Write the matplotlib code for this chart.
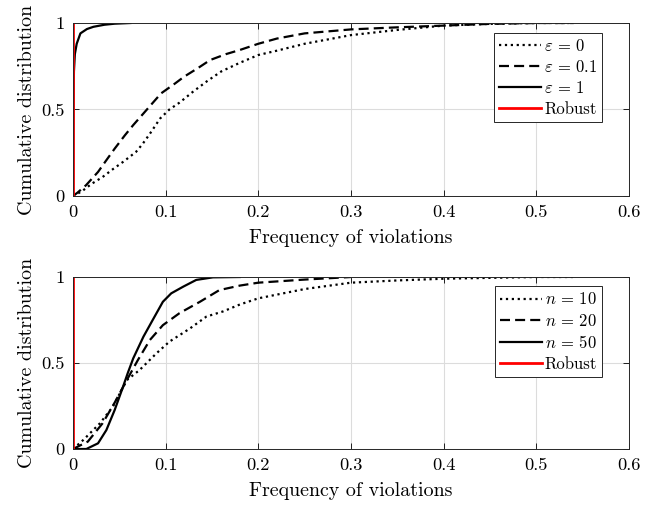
import matplotlib.pyplot as plt

plt.rcParams["font.family"] = "cmr10"
plt.rcParams["mathtext.fontset"] = "cm"
plt.rcParams["axes.formatter.use_mathtext"] = True

# top panel: varying epsilon
eps0_x = [0, 0.004, 0.011, 0.02, 0.032, 0.043, 0.054, 0.062, 0.068, 0.075, 0.083, 0.094,
          0.104, 0.115, 0.13, 0.145, 0.16, 0.18, 0.2, 0.22, 0.25, 0.3, 0.35, 0.4,
          0.45, 0.5, 0.54]
eps0_y = [0, 0.01, 0.033, 0.07, 0.11, 0.155, 0.197, 0.23, 0.255, 0.30, 0.36, 0.448,
          0.50, 0.54, 0.605, 0.665, 0.72, 0.77, 0.815, 0.84, 0.88, 0.93, 0.96,
          0.985, 0.995, 1.0, 1.0]
eps01_x = [0, 0.005, 0.014, 0.027, 0.036, 0.045, 0.056, 0.065, 0.076, 0.095, 0.11, 0.12,
           0.135, 0.148, 0.165, 0.18, 0.2, 0.22, 0.25, 0.3, 0.35, 0.4, 0.45, 0.5, 0.54]
eps01_y = [0, 0.02, 0.062, 0.139, 0.207, 0.274, 0.351, 0.41, 0.477, 0.593, 0.65, 0.69,
           0.74, 0.786, 0.82, 0.844, 0.88, 0.91, 0.94, 0.963, 0.975, 0.985, 0.995, 1.0, 1.0]
eps1_x = [0, 0.0005, 0.001, 0.002, 0.004, 0.008, 0.015, 0.022, 0.034, 0.045, 0.062]
eps1_y = [0, 0.5, 0.72, 0.82, 0.88, 0.94, 0.965, 0.978, 0.99, 0.996, 1.0]

# bottom panel: varying n
n10_x = [0, 0.011, 0.029, 0.043, 0.058, 0.072, 0.09, 0.104, 0.126, 0.144, 0.162,
         0.18, 0.2, 0.25, 0.3, 0.35, 0.4, 0.45, 0.5, 0.54]
n10_y = [0, 0.052, 0.149, 0.246, 0.40, 0.46, 0.556, 0.624, 0.70, 0.77, 0.80,
         0.84, 0.876, 0.93, 0.967, 0.98, 0.99, 0.995, 1.0, 1.0]
n20_x = [0, 0.016, 0.032, 0.045, 0.058, 0.07, 0.083, 0.097, 0.115, 0.137, 0.158,
         0.18, 0.2, 0.25, 0.3]
n20_y = [0, 0.043, 0.15, 0.27, 0.40, 0.517, 0.634, 0.72, 0.79, 0.856, 0.924,
         0.95, 0.967, 0.985, 1.0]
n50_x = [0, 0.0144, 0.027, 0.036, 0.045, 0.054, 0.059, 0.065, 0.076, 0.086, 0.097,
         0.106, 0.119, 0.133, 0.151, 0.18]
n50_y = [0, 0, 0.033, 0.11, 0.227, 0.362, 0.44, 0.527, 0.653, 0.75, 0.856,
         0.905, 0.944, 0.983, 0.998, 1.0]

robust_x = [0, 0]
robust_y = [0, 1]

xticks = [0, 0.1, 0.2, 0.3, 0.4, 0.5, 0.6]
yticks = [0, 0.5, 1]

fig = plt.figure(figsize=(6.62, 5.08), dpi=100)
ax1 = fig.add_axes([73 / 662, 1 - 196 / 508, 556 / 662, 173 / 508])
ax2 = fig.add_axes([73 / 662, 1 - 449 / 508, 556 / 662, 172 / 508])

dash = (0, (4.5, 2.3))
panels = [
    (ax1, [(eps0_x, eps0_y, ":", r"$\varepsilon\,=\,0$"),
           (eps01_x, eps01_y, dash, r"$\varepsilon\,=\,0.1$"),
           (eps1_x, eps1_y, "-", r"$\varepsilon\,=\,1$")]),
    (ax2, [(n10_x, n10_y, ":", r"$n\,=\,10$"),
           (n20_x, n20_y, dash, r"$n\,=\,20$"),
           (n50_x, n50_y, "-", r"$n\,=\,50$")]),
]

for ax, series in panels:
    for x, y, ls, lab in series:
        ax.plot(x, y, color="black", linestyle=ls, linewidth=1.6, label=lab)
    ax.plot(robust_x, robust_y, color="red", linewidth=2, label="Robust")
    ax.set_xlim(0, 0.6)
    ax.set_ylim(0, 1)
    ax.set_xticks(xticks)
    ax.set_xticklabels(["0", "0.1", "0.2", "0.3", "0.4", "0.5", "0.6"])
    ax.set_yticks(yticks)
    ax.set_yticklabels(["0", "0.5", "1"])
    ax.grid(True, color="#dcdcdc", linewidth=0.8)
    ax.set_axisbelow(True)
    ax.tick_params(direction="in", top=True, right=True, labelsize=13.3, length=4,
                   width=0.6, pad=6)
    for s in ax.spines.values():
        s.set_linewidth(0.7)
        s.set_color("#262626")
    ax.set_xlabel("Frequency of violations", fontsize=14.4, labelpad=7)
    ax.set_ylabel("Cumulative distribution", fontsize=14.4, labelpad=4)
    leg = ax.legend(loc="upper right", bbox_to_anchor=(0.952, 0.945), fontsize=12.0,
                    fancybox=False, framealpha=1, edgecolor="#262626", handlelength=2.5,
                    handletextpad=0.2, borderaxespad=0, labelspacing=0.32, borderpad=0.3)
    leg.get_frame().set_linewidth(0.7)

fig.savefig("out.png", dpi=100)
